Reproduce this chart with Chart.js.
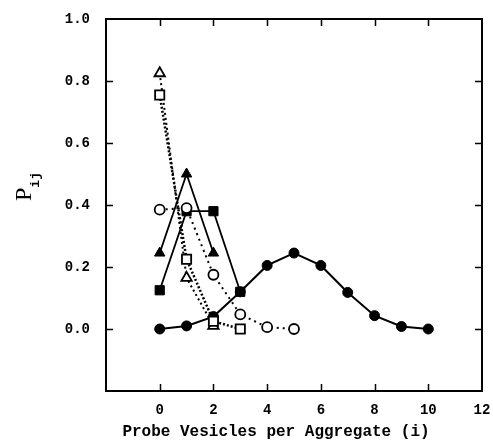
<!DOCTYPE html>
<html>
<head>
<meta charset="utf-8">
<script src="https://cdn.jsdelivr.net/npm/chart.js@4.4.0/dist/chart.umd.min.js"></script>
<style>
  html, body { margin: 0; padding: 0; background: #fff; }
  #wrap { width: 493px; height: 443px; }
</style>
</head>
<body>
<div id="wrap"><canvas id="c" width="493" height="443"></canvas></div>
<script>
// Probability P_ij of finding i probe vesicles per aggregate
const xFilledCircles = [0, 1, 2, 3, 4, 5, 6, 7, 8, 9, 10];
const yFilledCircles = [0.0, 0.01, 0.04, 0.12, 0.205, 0.245, 0.205, 0.118, 0.043, 0.008, 0.0];

const xOpenCircles = [0, 1, 2, 3, 4, 5];
const yOpenCircles = [0.385, 0.39, 0.175, 0.047, 0.006, 0.0];

const xFilledTriangles = [0, 1, 2];
const yFilledTriangles = [0.245, 0.5, 0.245];

const xFilledSquares = [0, 1, 2, 3];
const yFilledSquares = [0.125, 0.38, 0.38, 0.12];

const xOpenTriangles = [0, 1, 2];
const yOpenTriangles = [0.825, 0.165, 0.01];

const xOpenSquares = [0, 1, 2, 3];
const yOpenSquares = [0.755, 0.225, 0.025, 0.0];

const xTicks = [0, 2, 4, 6, 8, 10, 12];
const yTicks = [0.0, 0.2, 0.4, 0.6, 0.8, 1.0];

const xTitle = 'Probe Vesicles per Aggregate (i)';
const yTitleMain = 'P';
const yTitleSub = 'ij';

const pts = (xs, ys) => xs.map((x, i) => ({ x: x, y: ys[i] }));

const FONT = '"Liberation Mono", "DejaVu Sans Mono", monospace';

// frame, inward tick marks on all four sides, and axis titles
const framePlugin = {
  id: 'frame',
  afterDraw(chart) {
    const { ctx, chartArea: a, scales } = chart;
    ctx.save();
    ctx.strokeStyle = '#000';
    ctx.lineWidth = 2;
    ctx.strokeRect(a.left, a.top, a.right - a.left, a.bottom - a.top);
    ctx.lineWidth = 1.5;
    const len = 7;
    xTicks.forEach(v => {
      const px = Math.round(scales.x.getPixelForValue(v)) + 0.5;
      if (px <= a.left + 2 || px >= a.right - 2) return;
      ctx.beginPath();
      ctx.moveTo(px, a.bottom); ctx.lineTo(px, a.bottom - len);
      ctx.moveTo(px, a.top); ctx.lineTo(px, a.top + len);
      ctx.stroke();
    });
    yTicks.forEach(v => {
      const py = Math.round(scales.y.getPixelForValue(v)) + 0.5;
      if (py <= a.top + 2 || py >= a.bottom - 2) return;
      ctx.beginPath();
      ctx.moveTo(a.left, py); ctx.lineTo(a.left + len, py);
      ctx.moveTo(a.right, py); ctx.lineTo(a.right - len, py);
      ctx.stroke();
    });

    ctx.fillStyle = '#000';
    // x title
    ctx.font = 'bold 16px ' + FONT;
    ctx.textAlign = 'center';
    ctx.textBaseline = 'alphabetic';
    ctx.fillText(xTitle, 276, 436);

    // y title with subscript
    ctx.translate(31, 201);
    ctx.rotate(-Math.PI / 2);
    ctx.textAlign = 'left';
    ctx.font = '24px "Liberation Serif", serif';
    ctx.fillText(yTitleMain, 0, 0);
    const w = ctx.measureText(yTitleMain).width;
    ctx.font = 'bold 13px ' + FONT;
    ctx.fillText(yTitleSub, w, 8);
    ctx.restore();
  }
};

const base = { showLine: true, borderColor: '#000', pointBorderColor: '#000', pointHoverRadius: 0 };

new Chart(document.getElementById('c'), {
  type: 'scatter',
  data: {
    datasets: [
      Object.assign({}, base, {
        data: pts(xOpenSquares, yOpenSquares),
        borderWidth: 2.5, borderDash: [2, 2],
        pointStyle: 'rect', pointRadius: 6.5, pointBorderWidth: 1.8,
        pointBackgroundColor: '#fff'
      }),
      Object.assign({}, base, {
        data: pts(xOpenTriangles, yOpenTriangles),
        borderWidth: 2, borderDash: [2, 3],
        pointStyle: 'triangle', pointRadius: 6, pointBorderWidth: 1.8,
        pointBackgroundColor: '#fff'
      }),
      Object.assign({}, base, {
        data: pts(xOpenCircles, yOpenCircles),
        borderWidth: 2, borderDash: [2, 4],
        pointStyle: 'circle', pointRadius: 5, pointBorderWidth: 1.8,
        pointBackgroundColor: '#fff'
      }),
      Object.assign({}, base, {
        data: pts(xFilledTriangles, yFilledTriangles),
        borderWidth: 1.8,
        pointStyle: 'triangle', pointRadius: 6, pointBorderWidth: 1,
        pointBackgroundColor: '#000'
      }),
      Object.assign({}, base, {
        data: pts(xFilledSquares, yFilledSquares),
        borderWidth: 1.8,
        pointStyle: 'rect', pointRadius: 6.5, pointBorderWidth: 1,
        pointBackgroundColor: '#000'
      }),
      Object.assign({}, base, {
        data: pts(xFilledCircles, yFilledCircles),
        borderWidth: 2,
        pointStyle: 'circle', pointRadius: 5, pointBorderWidth: 1,
        pointBackgroundColor: '#000'
      })
    ]
  },
  options: {
    responsive: false,
    animation: false,
    events: [],
    layout: { padding: { top: 19, right: 11, left: 0, bottom: 0 } },
    plugins: { legend: { display: false }, tooltip: { enabled: false } },
    scales: {
      x: {
        type: 'linear', min: -2, max: 12,
        afterBuildTicks: s => { s.ticks = [-2].concat(xTicks).map(v => ({ value: v })); },
        afterFit: s => { s.height = 52; s.paddingLeft = 0; s.paddingRight = 0; },
        grid: { display: false, drawTicks: false },
        border: { display: false },
        ticks: {
          padding: 11, color: '#000', maxRotation: 0, autoSkip: false,
          font: { family: FONT, size: 14, weight: 'bold' },
          callback: v => (v < -1 ? '' : String(v))
        }
      },
      y: {
        type: 'linear', min: -0.2, max: 1.0,
        afterBuildTicks: s => { s.ticks = [-0.2].concat(yTicks).map(v => ({ value: v })); },
        afterFit: s => { s.width = 106; s.paddingTop = 0; s.paddingBottom = 0; },
        grid: { display: false, drawTicks: false },
        border: { display: false },
        ticks: {
          padding: 16, color: '#000', autoSkip: false,
          font: { family: FONT, size: 14, weight: 'bold' },
          callback: v => (v < -0.1 ? '' : v.toFixed(1))
        }
      }
    }
  },
  plugins: [framePlugin]
});
</script>
</body>
</html>
